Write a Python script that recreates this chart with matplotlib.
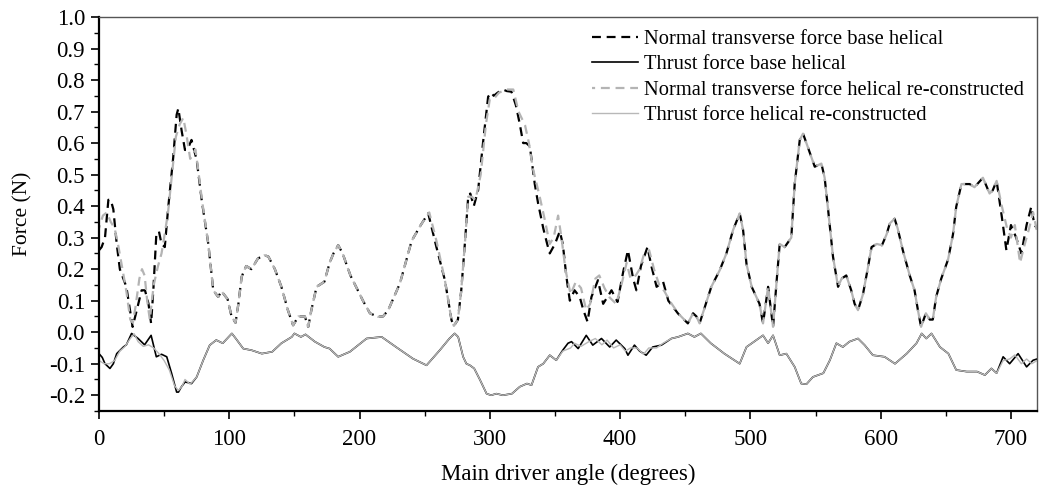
import matplotlib
matplotlib.use("Agg")
import matplotlib.pyplot as plt
from matplotlib.ticker import MultipleLocator, FormatStrFormatter

# ---------------- data ----------------
angle_nb = [0, 2, 4.6, 7.2, 9, 11, 13.6, 16, 21, 23.8, 25.8, 29, 32.7, 35.3, 38, 40, 41.7, 44, 46, 48,
            50.5, 53, 57, 59.6, 60.9, 63.4, 66, 68, 71, 75, 78.8, 83.9, 87.7, 91.5, 94, 98.7, 101.8, 104.8,
            107, 109.5, 113, 117, 122, 127, 130, 135, 140, 145, 149, 153, 158, 160.6, 163, 167, 173, 177,
            180, 183.6, 187, 193, 202.6, 208, 214, 218, 222, 231, 240, 247, 252.7, 259, 265.5, 270.6, 272.4,
            275.5, 278, 281, 283.4, 285, 287.7, 291, 295, 298.7, 301, 303, 306, 310, 313, 316.6, 320, 323,
            325.6, 328, 330.7, 334.5, 337, 341, 344, 346, 350, 353.7, 356, 358.8, 361.4, 365, 369, 371.8,
            375, 378, 383, 387, 393.4, 398, 402.3, 406, 410, 412.5, 416, 421, 424, 428, 433, 437, 444.5,
            452, 456, 458.6, 461, 465, 470, 476.5, 481.6, 486.7, 491.8, 494.4, 497, 501, 507, 509.7, 513.6,
            517.4, 520, 522.5, 526.3, 531.4, 534, 537.9, 540.4, 543, 549.4, 554.5, 557, 559.7, 563.4, 567.3,
            570, 573.6, 577.4, 580, 582.6, 586.4, 590, 593, 597, 601, 604.5, 607, 610.7, 613, 617, 622.3,
            626, 628.6, 631, 634.7, 637.7, 640, 642.6, 646.5, 651.7, 655.5, 658, 662, 668.3, 672, 678.5,
            683.6, 686, 689, 693, 696.5, 700, 704, 708, 712, 715.6, 718, 720]
normal_base = [0.26, 0.27, 0.30, 0.42, 0.42, 0.39, 0.28, 0.20, 0.144, 0.07, 0.017, 0.07, 0.133, 0.133, 0.09,
               0.028, 0.133, 0.31, 0.32, 0.28, 0.27, 0.39, 0.556, 0.69, 0.71, 0.64, 0.578, 0.58, 0.61, 0.546,
               0.42, 0.28, 0.133, 0.112, 0.13, 0.105, 0.049, 0.03, 0.09, 0.176, 0.21, 0.20, 0.234, 0.244,
               0.24, 0.20, 0.144, 0.07, 0.022, 0.05, 0.05, 0.017, 0.07, 0.144, 0.16, 0.22, 0.25, 0.276, 0.25,
               0.18, 0.10, 0.06, 0.049, 0.05, 0.07, 0.155, 0.29, 0.34, 0.377, 0.27, 0.165, 0.038, 0.02, 0.04,
               0.13, 0.29, 0.43, 0.44, 0.40, 0.45, 0.61, 0.747, 0.76, 0.75, 0.76, 0.77, 0.765, 0.763, 0.72,
               0.66, 0.60, 0.60, 0.59, 0.47, 0.41, 0.33, 0.28, 0.25, 0.28, 0.32, 0.28, 0.175, 0.10, 0.133,
               0.112, 0.07, 0.033, 0.112, 0.165, 0.09, 0.133, 0.096, 0.19, 0.26, 0.17, 0.133, 0.21, 0.27,
               0.21, 0.144, 0.16, 0.10, 0.059, 0.028, 0.06, 0.05, 0.028, 0.08, 0.144, 0.197, 0.25, 0.324,
               0.377, 0.324, 0.217, 0.144, 0.09, 0.028, 0.144, 0.017, 0.155, 0.28, 0.27, 0.30, 0.47, 0.61,
               0.63, 0.60, 0.525, 0.535, 0.49, 0.387, 0.24, 0.144, 0.17, 0.18, 0.133, 0.09, 0.07, 0.12, 0.20,
               0.27, 0.28, 0.276, 0.31, 0.345, 0.36, 0.33, 0.26, 0.18, 0.133, 0.07, 0.017, 0.06, 0.04, 0.04,
               0.112, 0.17, 0.23, 0.31, 0.398, 0.47, 0.47, 0.46, 0.49, 0.44, 0.45, 0.48, 0.366, 0.26, 0.34,
               0.30, 0.25, 0.34, 0.398, 0.34, 0.33]

angle_tb = [0, 2.5, 4.6, 8.4, 11, 13.6, 18.7, 21, 25, 30, 35, 40, 44, 48, 52, 55.7, 59.6, 61, 63, 66, 68.5,
            71, 75, 80, 85, 90, 95, 102, 105, 110.7, 117, 125, 133, 140, 148, 150, 155, 158.5, 165.7, 173,
            177, 183.6, 192.6, 205.4, 217, 228, 241, 251.4, 261.6, 269, 273, 275.7, 279.5, 282, 284.7, 288,
            292.3, 297.5, 301, 305, 310, 317, 323, 328.5, 332, 337, 341, 346, 351, 356, 360, 362.7, 367.8,
            374, 379, 385.7, 392, 397, 403.6, 406, 411, 415, 420, 425, 431.7, 439.4, 444.5, 452, 457, 462,
            469.6, 480, 491.8, 497, 504.6, 509.7, 513.6, 517.4, 522.5, 527.6, 534, 539, 543, 548, 556, 561,
            566, 571, 576, 582.6, 587.7, 594, 603, 611, 620, 627.5, 631.5, 635, 639, 645.5, 652, 658, 666,
            674, 680, 685, 689, 694, 699, 705.5, 712, 717, 720]
thrust_base = [-0.068, -0.08, -0.10, -0.115, -0.10, -0.068, -0.047, -0.04, -0.004, -0.02, -0.04, -0.01,
               -0.078, -0.07, -0.078, -0.13, -0.19, -0.19, -0.175, -0.158, -0.16, -0.163, -0.142, -0.089,
               -0.041, -0.025, -0.035, -0.004, -0.02, -0.052, -0.057, -0.068, -0.062, -0.035, -0.015,
               -0.004, -0.015, -0.007, -0.03, -0.047, -0.052, -0.078, -0.062, -0.02, -0.015, -0.047, -0.084,
               -0.105, -0.057, -0.02, -0.004, -0.015, -0.078, -0.10, -0.105, -0.115, -0.15, -0.195, -0.20,
               -0.195, -0.20, -0.195, -0.173, -0.163, -0.168, -0.11, -0.10, -0.073, -0.089, -0.057, -0.035,
               -0.03, -0.052, -0.01, -0.041, -0.02, -0.047, -0.025, -0.052, -0.073, -0.041, -0.06, -0.073,
               -0.047, -0.041, -0.02, -0.015, -0.004, -0.015, -0.004, -0.035, -0.068, -0.10, -0.047, -0.025,
               -0.01, -0.035, -0.01, -0.073, -0.068, -0.11, -0.163, -0.165, -0.142, -0.13, -0.089, -0.035,
               -0.047, -0.03, -0.02, -0.041, -0.073, -0.078, -0.10, -0.068, -0.035, -0.004, -0.02, -0.004,
               -0.047, -0.068, -0.12, -0.125, -0.125, -0.136, -0.115, -0.13, -0.078, -0.10, -0.068, -0.11,
               -0.089, -0.085]

angle_nr = [0, 3, 6, 9, 12, 15, 18, 21, 24, 26, 28, 31, 33, 35, 37, 39, 42, 45.3, 48, 50, 53, 56, 59, 62,
            64.7, 67, 70, 74, 76, 79, 83.9, 87.7, 91.5, 94, 98.7, 101.8, 104.8, 107, 109.5, 113, 117, 122,
            127, 130, 135, 140, 145, 149, 153, 158, 160.6, 163, 167, 173, 177, 180, 183.6, 187, 193, 202.6,
            208, 214, 218, 222, 231, 240, 247, 253.5, 259, 265.5, 270.6, 272.4, 275.5, 278, 281, 283.4, 286,
            289, 293, 297, 300, 303, 307, 313, 318, 322, 327, 330, 333, 338, 342, 346, 349, 352.4, 355, 358,
            362, 366, 370, 374, 377, 381, 384, 388, 392, 397, 401, 405, 408, 412, 415, 418.5, 422.3, 426,
            430, 434, 438, 444.5, 452, 456, 458.6, 461, 465, 470, 476.5, 481.6, 486.7, 491.8, 494.4, 497,
            501, 507, 509.7, 513.6, 517.4, 520, 522.5, 526.3, 531.4, 534, 537.9, 540.4, 543, 549.4, 554.5,
            557, 559.7, 563.4, 567.3, 570, 573.6, 577.4, 580, 582.6, 586.4, 590, 593, 597, 601, 604.5, 607,
            610.7, 613, 617, 622.3, 626, 628.6, 631, 634.7, 637.7, 640, 642.6, 646.5, 651.7, 655.5, 658,
            662, 668.3, 672, 678.5, 683.6, 686, 689, 693, 697, 700, 703, 707, 710, 714, 717, 720]
normal_recon = [0.33, 0.37, 0.38, 0.35, 0.33, 0.27, 0.20, 0.13, 0.04, 0.03, 0.08, 0.17, 0.20, 0.18, 0.10,
                0.04, 0.15, 0.21, 0.25, 0.30, 0.38, 0.50, 0.62, 0.66, 0.68, 0.63, 0.55, 0.58, 0.52, 0.42,
                0.28, 0.133, 0.112, 0.13, 0.105, 0.049, 0.03, 0.09, 0.176, 0.21, 0.20, 0.234, 0.244, 0.24,
                0.20, 0.144, 0.07, 0.022, 0.05, 0.05, 0.017, 0.07, 0.144, 0.16, 0.22, 0.25, 0.276, 0.25, 0.18,
                0.10, 0.06, 0.049, 0.05, 0.07, 0.155, 0.29, 0.34, 0.38, 0.29, 0.165, 0.038, 0.02, 0.04, 0.13,
                0.29, 0.43, 0.43, 0.42, 0.50, 0.66, 0.74, 0.74, 0.76, 0.77, 0.77, 0.70, 0.657, 0.60, 0.52,
                0.435, 0.36, 0.28, 0.30, 0.37, 0.30, 0.20, 0.12, 0.16, 0.14, 0.07, 0.09, 0.17, 0.18, 0.14,
                0.11, 0.09, 0.15, 0.22, 0.17, 0.18, 0.20, 0.25, 0.26, 0.20, 0.15, 0.13, 0.10, 0.06, 0.028,
                0.06, 0.05, 0.028, 0.08, 0.144, 0.197, 0.25, 0.324, 0.377, 0.324, 0.217, 0.144, 0.09, 0.028,
                0.144, 0.017, 0.155, 0.28, 0.27, 0.30, 0.47, 0.61, 0.63, 0.60, 0.525, 0.535, 0.49, 0.387,
                0.24, 0.144, 0.17, 0.18, 0.133, 0.09, 0.07, 0.12, 0.20, 0.27, 0.28, 0.276, 0.31, 0.345, 0.36,
                0.33, 0.26, 0.18, 0.133, 0.07, 0.017, 0.06, 0.04, 0.04, 0.112, 0.17, 0.23, 0.31, 0.398, 0.47,
                0.47, 0.46, 0.49, 0.44, 0.45, 0.48, 0.40, 0.33, 0.30, 0.34, 0.22, 0.27, 0.33, 0.38, 0.32]

angle_tr = [0, 4, 8, 12, 16, 20, 24, 27, 30, 34, 38, 42, 46, 50, 54, 58, 61, 64, 66, 70, 75, 80, 85, 90,
            95, 102, 105, 110.7, 117, 125, 133, 140, 148, 150, 155, 158.5, 165.7, 173, 177, 183.6, 192.6,
            205.4, 217, 228, 241, 251.4, 261.6, 269, 273, 275.7, 279.5, 282, 284.7, 288, 292.3, 297.5, 301,
            305, 310, 317, 323, 328.5, 332, 337, 341, 346, 351, 356, 362, 365, 370, 376, 381, 386, 390, 395,
            400, 404, 408, 413, 418, 422, 428, 433, 439.4, 444.5, 452, 457, 462, 469.6, 480, 491.8, 497,
            504.6, 509.7, 513.6, 517.4, 522.5, 527.6, 534, 539, 543, 548, 556, 561, 566, 571, 576, 582.6,
            587.7, 594, 603, 611, 620, 627.5, 631.5, 635, 639, 645.5, 652, 658, 666, 674, 680, 685, 689,
            694, 699, 703, 708, 712, 716, 720]
thrust_recon = [-0.09, -0.10, -0.10, -0.09, -0.06, -0.045, -0.02, -0.005, -0.03, -0.045, -0.04, -0.05,
                -0.068, -0.09, -0.12, -0.17, -0.185, -0.17, -0.15, -0.165, -0.142, -0.089, -0.041, -0.025,
                -0.035, -0.004, -0.02, -0.052, -0.057, -0.068, -0.062, -0.035, -0.015, -0.004, -0.015,
                -0.007, -0.03, -0.047, -0.052, -0.078, -0.062, -0.02, -0.015, -0.047, -0.084, -0.105,
                -0.057, -0.02, -0.004, -0.015, -0.078, -0.10, -0.105, -0.115, -0.15, -0.195, -0.20, -0.195,
                -0.20, -0.195, -0.173, -0.163, -0.168, -0.11, -0.10, -0.073, -0.089, -0.06, -0.05, -0.035,
                -0.045, -0.03, -0.02, -0.04, -0.025, -0.05, -0.04, -0.06, -0.05, -0.05, -0.07, -0.05, -0.05,
                -0.035, -0.02, -0.015, -0.004, -0.015, -0.004, -0.035, -0.068, -0.10, -0.047, -0.025, -0.01,
                -0.035, -0.01, -0.073, -0.068, -0.11, -0.163, -0.165, -0.142, -0.13, -0.089, -0.035, -0.047,
                -0.03, -0.02, -0.041, -0.073, -0.078, -0.10, -0.068, -0.035, -0.004, -0.02, -0.004, -0.047,
                -0.068, -0.12, -0.125, -0.125, -0.136, -0.115, -0.13, -0.09, -0.085, -0.072, -0.10, -0.085,
                -0.10, -0.09]

labels = ["Normal transverse force base helical",
          "Thrust force base helical",
          "Normal transverse force helical re-constructed",
          "Thrust force helical re-constructed"]

x_label = "Main driver angle (degrees)"
y_label = "Force (N)"

# ---------------- figure ----------------
plt.rcParams['font.family'] = ['Liberation Serif', 'DejaVu Serif']

fig = plt.figure(figsize=(10.41, 4.88), dpi=100)
ax = fig.add_axes([99 / 1041, 1 - 411 / 488, (1037 - 99) / 1041, (411 - 17) / 488])

l_nb, = ax.plot(angle_nb, normal_base, color='black', lw=1.6, linestyle=(0, (4.0, 2.6)))
l_tb, = ax.plot(angle_tb, thrust_base, color='black', lw=1.2, linestyle='-')
l_nr, = ax.plot(angle_nr, normal_recon, color='#b4b4b4', lw=1.6, linestyle=(2.6, (4.0, 2.6)))
l_tr, = ax.plot(angle_tr, thrust_recon, color='#b8b8b8', lw=1.0, linestyle='-')

ax.set_xlim(0, 720)
ax.set_ylim(-0.25, 1.0)
ax.xaxis.set_major_locator(MultipleLocator(100))
ax.xaxis.set_minor_locator(MultipleLocator(50))
ax.yaxis.set_major_locator(MultipleLocator(0.1))
ax.yaxis.set_minor_locator(MultipleLocator(0.05))
ax.yaxis.set_major_formatter(FormatStrFormatter('%.1f'))

ax.tick_params(axis='both', which='major', direction='out', length=6, width=1.2,
               labelsize=16.5)
ax.tick_params(axis='x', which='major', pad=7)
ax.tick_params(axis='y', which='major', pad=4)
ax.tick_params(axis='both', which='minor', direction='out', length=3.5, width=1.0)

for side in ('left', 'bottom'):
    ax.spines[side].set_linewidth(1.6)
    ax.spines[side].set_color('black')
for side in ('top', 'right'):
    ax.spines[side].set_linewidth(1.0)
    ax.spines[side].set_color('#555555')

ax.set_xlabel(x_label, fontsize=16.5, labelpad=10)
ax.set_ylabel(y_label, fontsize=15.5, labelpad=12)

ax.legend([l_nb, l_tb, l_nr, l_tr], labels, loc='upper right',
          bbox_to_anchor=(0.999, 1.0), frameon=False, fontsize=14.8,
          handlelength=2.2, handletextpad=0.3, labelspacing=0.3, borderaxespad=0.2)

fig.savefig("out.png", dpi=100)
